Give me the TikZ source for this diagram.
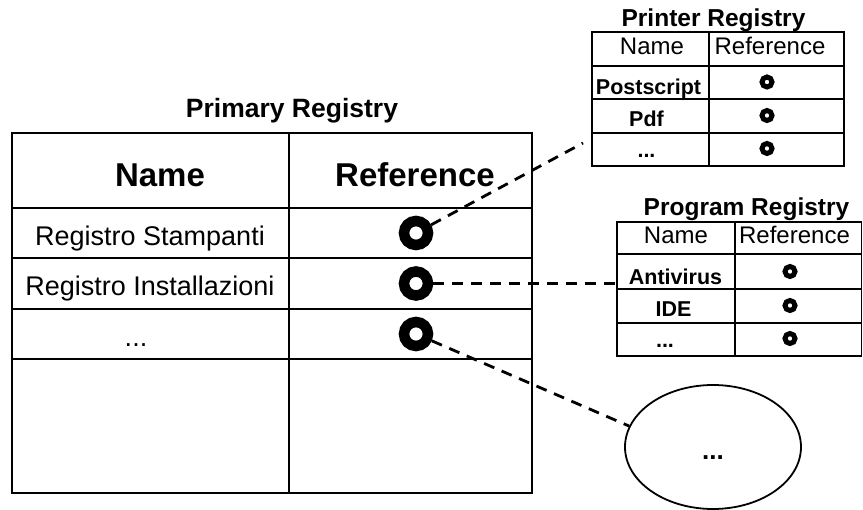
\documentclass[tikz,border=0pt]{standalone}
\usepackage{fontspec}
\setmainfont{Liberation Sans}
\usetikzlibrary{shapes.geometric}
\begin{document}
\begin{tikzpicture}[x=1pt,y=-1pt,
  ttl/.style={anchor=base,inner sep=0pt,font=\bfseries\fontsize{26.5}{30}\selectfont},
  hdr/.style={anchor=base,inner sep=0pt,font=\bfseries\fontsize{33}{36}\selectfont},
  cell/.style={anchor=base,inner sep=0pt,font=\fontsize{27}{30}\selectfont},
  subttl/.style={anchor=base,inner sep=0pt,font=\bfseries\fontsize{24.5}{28}\selectfont},
  subhdr/.style={anchor=base,inner sep=0pt,font=\fontsize{24}{28}\selectfont},
  subcell/.style={anchor=base,inner sep=0pt,font=\bfseries\fontsize{21.5}{24}\selectfont},
  ring/.style={circle,draw,line width=10.5pt,minimum size=24pt,inner sep=0pt},
  smallring/.style={circle,draw,line width=5pt,minimum size=10pt,inner sep=0pt},
  grid/.style={line width=1.3pt},
  frame/.style={line width=2.8pt},
  link/.style={line width=2.8pt,dash pattern=on 11pt off 8pt},
]
\path[use as bounding box] (0,0) rectangle (863,510);

% primary registry
\node[ttl] (ptitle) at (292,118) {Primary Registry};
\draw[grid] (12,208) -- (532,208) (12,258) -- (532,258) (12,309) -- (532,309)
            (12,359) -- (532,359) (289,133) -- (289,493);
\draw[frame] (12,133) rectangle (532,493);
\node[hdr] (pname) at (160,187) {Name};
\node[hdr] (pref) at (415,187) {Reference};
\node[cell] (p1) at (150,246) {Registro Stampanti};
\node[cell] (p2) at (150,296) {Registro Installazioni};
\node[cell] (p3) at (136,347) {...};
\node[ring] (r1) at (416,233) {};
\node[ring] (r2) at (416,283.5) {};
\node[ring] (r3) at (416,334) {};

% printer registry
\node[subttl] (prtitle) at (713.5,26.5) {Printer Registry};
\node[draw,grid,minimum width=252pt,minimum height=134pt,inner sep=0pt,outer sep=0pt] (prt) at (718,99) {};
\draw[grid] (592,66) -- (844,66) (592,99) -- (844,99) (592,133) -- (844,133) (709,32) -- (709,166);
\node[subhdr] at (652,55) {Name};
\node[subhdr] at (770,55) {Reference};
\node[subcell] at (648.5,95) {Postscript};
\node[subcell] at (646.5,126.5) {Pdf};
\node[subcell] at (646.5,158) {...};
\node[smallring] at (767,82) {};
\node[smallring] at (767,115.5) {};
\node[smallring] at (767,148.5) {};

% program registry
\node[subttl] (pgtitle) at (746.5,216) {Program Registry};
\node[draw,grid,minimum width=244.5pt,minimum height=134pt,inner sep=0pt,outer sep=0pt] (prog) at (739.25,289) {};
\draw[grid] (617,254) -- (861.5,254) (617,289) -- (861.5,289) (617,323) -- (861.5,323) (735,222) -- (735,356);
\node[subhdr] at (676,244) {Name};
\node[subhdr] at (794.5,244) {Reference};
\node[subcell] at (675.5,285) {Antivirus};
\node[subcell] at (673.5,316.5) {IDE};
\node[subcell] at (665,348) {...};
\node[smallring] at (790,271.5) {};
\node[smallring] at (790,305.5) {};
\node[smallring] at (790,338.5) {};

% unnamed registry
\node[ellipse,draw,line width=1.8pt,minimum width=176pt,minimum height=124pt,inner sep=0pt] (ell) at (713,447) {};
\node[anchor=base,inner sep=0pt,font=\bfseries\fontsize{26}{28}\selectfont] at (713,460) {...};

% links
\coordinate (prtend) at (583,143);
\draw[link] (r1) -- (prtend);
\draw[link] (r2) -- (r2 -| prog.west);
\draw[link] (r3) -- (ell.166);
\end{tikzpicture}
\end{document}
